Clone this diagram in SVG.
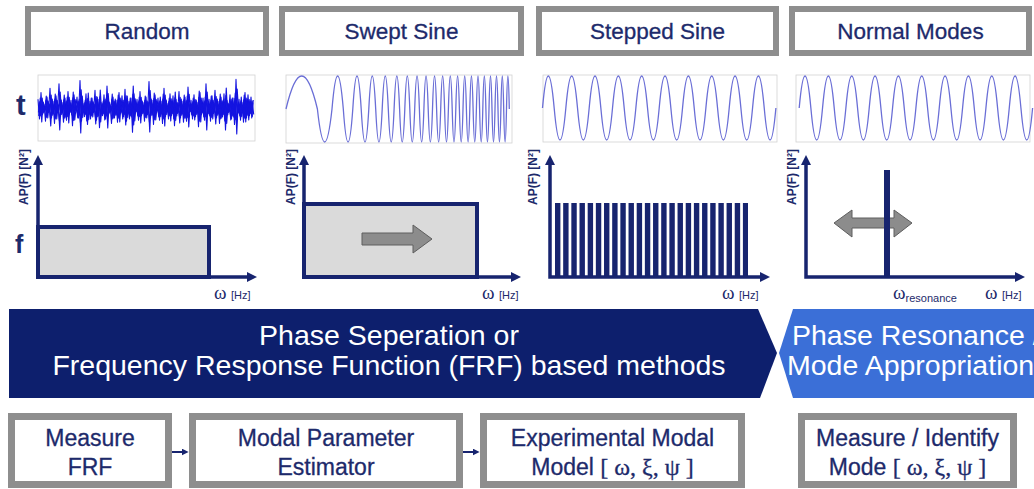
<svg xmlns="http://www.w3.org/2000/svg" width="1034" height="489" viewBox="0 0 1034 489">
  <style>
    .box { fill: #ffffff; stroke: #8e8e8e; }
    .top { stroke-width: 6; }
    .bot { stroke-width: 7; }
    .lbl { font-family: "Liberation Sans", Arial, sans-serif; fill: #1d2a6b; text-anchor: middle; stroke: #1d2a6b; stroke-width: 0.3; }
    .greek { font-family: "Liberation Serif", "Times New Roman", serif; }
    .frame { fill: none; stroke: #d2d2d2; stroke-width: 0.8; }
    .noise { fill: none; stroke: #1414e0; stroke-width: 1.1; stroke-linejoin: round; }
    .sine { fill: none; stroke: #6a6ed6; stroke-width: 1.3; }
    .axis { fill: none; stroke: #17246f; stroke-width: 3.5; marker-start: url(#head); marker-end: url(#head); }
    .band { fill: #dadada; stroke: #17246f; stroke-width: 4; }
    .ylab { font-family: "Liberation Sans", Arial, sans-serif; font-weight: bold; font-size: 12px; fill: #1d2a6b; text-anchor: middle; }
    .om { font-family: "Liberation Serif", "Times New Roman", serif; font-size: 19px; fill: #1d2a6b; }
    .hz { font-family: "Liberation Sans", Arial, sans-serif; font-size: 11px; fill: #1d2a6b; }
    .big { font-family: "Liberation Sans", Arial, sans-serif; font-weight: bold; fill: #1d2a6b; }
    .ban { font-family: "Liberation Sans", Arial, sans-serif; font-size: 28.5px; fill: #ffffff; }
    .gray { fill: #8c8c8c; stroke: #5e5e5e; stroke-width: 1; }
    .link { fill: none; stroke: #17246f; stroke-width: 2; marker-end: url(#tip); }
  </style>
  <defs>
    <marker id="head" viewBox="0 0 10 10" refX="2" refY="5" markerWidth="10" markerHeight="10" markerUnits="userSpaceOnUse" orient="auto-start-reverse">
      <path d="M0,0 L10,5 L0,10 z" fill="#17246f"/>
    </marker>
    <marker id="tip" viewBox="0 0 10 10" refX="2" refY="5" markerWidth="7" markerHeight="7" markerUnits="userSpaceOnUse" orient="auto">
      <path d="M0,0 L10,5 L0,10 z" fill="#17246f"/>
    </marker>
    <polyline id="noiseTrace" points="0,-8 1,10 2,-14 3,6 4,-3 5,12 6,-10 7,4 8,-18 9,9 10,-6 11,14 12,-11 13,3 14,-22 15,8 16,-5 17,13 18,-9 19,11 20,-15 21,5 22,-7 23,16 24,-12 25,2 26,-10 27,9 28,-25 29,12 30,-4 31,8 32,-13 33,15 34,-6 35,10 36,-9 37,4 38,-16 39,11 40,-8 41,18 42,-5 43,7 44,-12 45,10 46,-20 47,6 48,-3 49,14 50,-10 51,9 52,-7 53,13 54,-14 55,5 56,-11 57,8 58,-17 59,12 60,-6 61,10 62,-9 63,22 64,-13 65,4 66,-8 67,11 68,-15 69,7 70,-5 71,12 72,-10 73,6 74,-24 75,9 76,-7 77,15 78,-12 79,3 80,-9 81,11 82,-6 83,14 84,-18 85,8 86,-4 87,10 88,-13 89,7 90,-11 91,16 92,-8 93,5 94,-15 95,9 96,-6 97,13 98,-10 99,12 100,-19 101,4 102,-7 103,10 104,-12 105,8 106,-5 107,17 108,-14 109,6 110,-9 111,11 112,-22 113,7 114,-8 115,12 116,-11 117,5 118,-16 119,9 120,-6 121,14 122,-10 123,8 124,-13 125,20 126,-7 127,4 128,-12 129,10 130,-9 131,15 132,-26 133,6 134,-8 135,11 136,-5 137,13 138,-14 139,9 140,-12 141,7 142,-10 143,8" class="noise" vector-effect="non-scaling-stroke"/>
  </defs>

  <rect width="1034" height="489" fill="#ffffff"/>

  <!-- excitation type headers -->
  <g id="hdr-random">
    <rect class="box top" x="28" y="9" width="238" height="44"/>
    <text class="lbl" x="147" y="39" font-size="22.5">Random</text>
  </g>
  <g id="hdr-swept">
    <rect class="box top" x="282" y="9" width="239" height="44"/>
    <text class="lbl" x="401.5" y="39" font-size="22.5">Swept Sine</text>
  </g>
  <g id="hdr-stepped">
    <rect class="box top" x="539" y="9" width="237" height="44"/>
    <text class="lbl" x="657.5" y="39" font-size="22.5">Stepped Sine</text>
  </g>
  <g id="hdr-normal">
    <rect class="box top" x="792" y="9" width="237" height="44"/>
    <text class="lbl" x="910.5" y="39" font-size="22.5">Normal Modes</text>
  </g>

  <!-- time signals -->
  <g id="time-random">
    <text class="big" x="16" y="115" font-size="29">t</text>
    <rect class="frame" x="38" y="75" width="217" height="66"/>
    <use href="#noiseTrace" transform="translate(38,108) scale(1.5,1.1)"/>
    <use href="#noiseTrace" transform="translate(38.75,108) scale(1.5,-1)"/>
    <use href="#noiseTrace" transform="translate(39.2,108.5) scale(1.5,0.75)"/>
    <use href="#noiseTrace" transform="translate(38.4,107.5) scale(1.5,-0.6)"/>
    <use href="#noiseTrace" transform="translate(39.5,108) scale(1.49,0.45)"/>
  </g>
  <g id="time-swept">
    <rect class="frame" x="286" y="75" width="226" height="68"/>
    <path class="sine" d="M286,109 Q301.7,43 317.4,109 Q324.7,175 332,109 Q337.65,43 343.3,109 Q348.05,175 352.8,109 Q357,43 361.2,109 Q365,175 368.8,109 Q372.25,43 375.7,109 Q378.95,175 382.2,109 Q385.25,43 388.3,109 Q391.2,175 394.1,109 Q396.85,43 399.6,109 Q402.2,175 404.8,109 Q407.3,43 409.8,109 Q412.25,175 414.7,109 Q417.05,43 419.4,109 Q421.65,175 423.9,109 Q426.05,43 428.2,109 Q430.35,175 432.5,109 Q434.55,43 436.6,109 Q438.65,175 440.7,109 Q442.65,43 444.6,109 Q446.5,175 448.4,109 Q450.3,43 452.2,109 Q454,175 455.8,109 Q457.6,43 459.4,109 Q461.2,175 463,109 Q464.7,43 466.4,109 Q468.1,175 469.8,109 Q471.45,43 473.1,109 Q474.75,175 476.4,109 Q478,43 479.6,109 Q481.2,175 482.8,109 Q484.35,43 485.9,109 Q487.45,175 489,109 Q490.5,43 492,109 Q493.5,175 495,109 Q496.5,43 498,109 Q499.45,175 500.9,109 Q502.3,43 503.7,109 Q505.1,175 506.5,109 Q507.9,43 509.3,109"/>
  </g>
  <g id="time-stepped">
    <rect class="frame" x="543" y="75" width="234" height="67"/>
    <path class="sine" d="M542.5,108 q5.835,-64 11.67,0 t11.67,0 t11.67,0 t11.67,0 t11.67,0 t11.67,0 t11.67,0 t11.67,0 t11.67,0 t11.67,0 t11.67,0 t11.67,0 t11.67,0 t11.67,0 t11.67,0 t11.67,0 t11.67,0 t11.67,0 t11.67,0 t11.67,0"/>
  </g>
  <g id="time-normal">
    <rect class="frame" x="796" y="75" width="234" height="67"/>
    <path class="sine" d="M799.2,108 q5.835,-64 11.67,0 t11.67,0 t11.67,0 t11.67,0 t11.67,0 t11.67,0 t11.67,0 t11.67,0 t11.67,0 t11.67,0 t11.67,0 t11.67,0 t11.67,0 t11.67,0 t11.67,0 t11.67,0 t11.67,0 t11.67,0 t11.67,0 t11.67,0"/>
  </g>

  <!-- force spectra -->
  <g id="spec-random">
    <text class="ylab" transform="translate(28,177) rotate(-90)">AP(F) [N²]</text>
    <text class="big" x="15" y="253" font-size="25">f</text>
    <rect class="band" x="38" y="227" width="171" height="50"/>
    <path class="axis" d="M38,163 V277 H249"/>
    <text class="om" x="214" y="299">ω</text>
    <text class="hz" x="231" y="299">[Hz]</text>
  </g>
  <g id="spec-swept">
    <text class="ylab" transform="translate(295,177) rotate(-90)">AP(F) [N²]</text>
    <rect class="band" x="304" y="204" width="173" height="73"/>
    <path class="gray" d="M362,233 H413 V225 L432,239 L413,253 V245 H362 z"/>
    <path class="axis" d="M304,163 V277 H513"/>
    <text class="om" x="482" y="299">ω</text>
    <text class="hz" x="499" y="299">[Hz]</text>
  </g>
  <g id="spec-stepped">
    <text class="ylab" transform="translate(537,177) rotate(-90)">AP(F) [N²]</text>
    <line x1="555" y1="240" x2="748" y2="240" stroke="#17246f" stroke-width="74" stroke-dasharray="5.4 2.77"/>
    <path class="axis" d="M550,163 V277 H762"/>
    <text class="om" x="722" y="299">ω</text>
    <text class="hz" x="739" y="299">[Hz]</text>
  </g>
  <g id="spec-normal">
    <text class="ylab" transform="translate(796,177) rotate(-90)">AP(F) [N²]</text>
    <path class="gray" d="M834,223 L852,210 V218 H894 V210 L912,223 L894,237 V228 H852 V237 z"/>
    <rect x="884" y="170" width="6" height="107" fill="#17246f"/>
    <path class="axis" d="M806,163 V277 H1017"/>
    <text class="om" x="893" y="299">ω<tspan class="hz" dy="3">resonance</tspan></text>
    <text class="om" x="985" y="299">ω</text>
    <text class="hz" x="1002" y="299">[Hz]</text>
  </g>

  <!-- method banners -->
  <g id="banner-frf">
    <polygon points="9,309 758,309 777,353 760,398 9,398" fill="#0d1f6d"/>
    <text class="ban" x="389" y="345" text-anchor="middle">Phase Seperation or</text>
    <text class="ban" x="389" y="375" text-anchor="middle">Frequency Response Function (FRF) based methods</text>
  </g>
  <g id="banner-resonance">
    <polygon points="793,309 1034,309 1034,398 793,398 779,353" fill="#3b6fd7"/>
    <text class="ban" x="792" y="345">Phase Resonance /</text>
    <text class="ban" x="787" y="375">Mode Appropriation</text>
  </g>

  <!-- process steps -->
  <g id="step-measure">
    <rect class="box bot" x="11.5" y="416.5" width="157" height="68"/>
    <text class="lbl" x="90" y="446" font-size="23">Measure</text>
    <text class="lbl" x="90" y="475" font-size="23">FRF</text>
  </g>
  <g id="step-estimator">
    <rect class="box bot" x="192.5" y="416.5" width="267" height="68"/>
    <text class="lbl" x="326" y="446" font-size="23">Modal Parameter</text>
    <text class="lbl" x="326" y="475" font-size="23">Estimator</text>
  </g>
  <g id="step-model">
    <rect class="box bot" x="483.5" y="416.5" width="258" height="68"/>
    <text class="lbl" x="612.5" y="446" font-size="23">Experimental Modal</text>
    <text class="lbl" x="612.5" y="475" font-size="23">Model  <tspan class="greek" font-size="24">[ ω, ξ, ψ ]</tspan></text>
  </g>
  <g id="step-identify">
    <rect class="box bot" x="801.5" y="416.5" width="212" height="68"/>
    <text class="lbl" x="907.5" y="446" font-size="23">Measure / Identify</text>
    <text class="lbl" x="907.5" y="475" font-size="23">Mode <tspan class="greek" font-size="24">[ ω, ξ, ψ ]</tspan></text>
  </g>

  <g id="connectors">
    <path class="link" d="M172,452 H183"/>
    <path class="link" d="M463,452 H474"/>
  </g>
</svg>
